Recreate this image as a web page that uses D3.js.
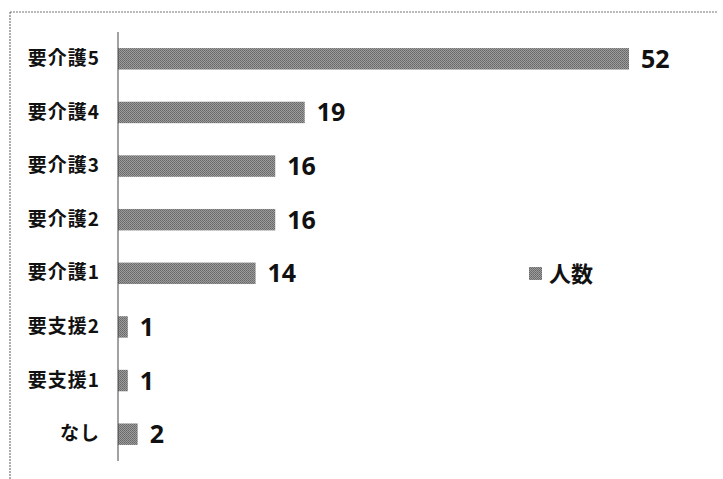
<!DOCTYPE html>
<html>
<head>
<meta charset="utf-8">
<script src="https://cdn.jsdelivr.net/npm/d3@7"></script>
<style>
  body { margin: 0; background: #fff; }
  text { font-family: "Noto Sans CJK JP", "Open Sans", sans-serif; font-weight: bold; fill: #111; }
</style>
</head>
<body>
<div id="chart"></div>
<script>
// categories top to bottom
const categories = ["要介護5", "要介護4", "要介護3", "要介護2", "要介護1", "要支援2", "要支援1", "なし"];
const values = [52, 19, 16, 16, 14, 1, 1, 2];
const seriesName = "人数";

const width = 723, height = 479;
const svg = d3.select("#chart").append("svg")
  .attr("width", width)
  .attr("height", height);

// halftone-like fill for the bars
const pat = svg.append("defs").append("pattern")
  .attr("id", "dots")
  .attr("width", 2).attr("height", 2)
  .attr("patternUnits", "userSpaceOnUse");
pat.append("rect").attr("width", 2).attr("height", 2).attr("fill", "#9c9c9c");
pat.append("rect").attr("width", 1).attr("height", 1).attr("fill", "#666");
pat.append("rect").attr("x", 1).attr("y", 1).attr("width", 1).attr("height", 1).attr("fill", "#727272");

// dotted frame (top + left only visible)
svg.append("line")
  .attr("x1", 10).attr("y1", 12).attr("x2", 718).attr("y2", 12)
  .attr("stroke", "#777").attr("stroke-width", 1.2).attr("stroke-dasharray", "2,1");
svg.append("line")
  .attr("x1", 10).attr("y1", 12).attr("x2", 10).attr("y2", height)
  .attr("stroke", "#777").attr("stroke-width", 1.2).attr("stroke-dasharray", "2,1");

const x = d3.scaleLinear().domain([0, 52]).range([118, 629]);
const y = d3.scaleBand().domain(categories).range([32, 461]).paddingInner(0.6).paddingOuter(0.3);

// bars
svg.selectAll("rect.bar")
  .data(values)
  .join("rect")
  .attr("class", "bar")
  .attr("x", x(0))
  .attr("y", (d, i) => y(categories[i]))
  .attr("width", d => x(d) - x(0))
  .attr("height", y.bandwidth())
  .attr("fill", "url(#dots)");

// value labels
svg.selectAll("text.val")
  .data(values)
  .join("text")
  .attr("class", "val")
  .attr("x", d => x(d) + 12)
  .attr("y", (d, i) => y(categories[i]) + y.bandwidth() / 2)
  .attr("dy", "0.36em")
  .style("font-family", "'Open Sans', sans-serif")
  .style("font-size", "25px")
  .text(d => d);

// category axis
const axis = svg.append("g")
  .attr("transform", `translate(${x(0)},0)`)
  .call(d3.axisLeft(y).tickSize(0).tickPadding(18));
axis.select(".domain")
  .attr("d", "M0,32V461")
  .attr("stroke", "#444");
axis.selectAll(".tick text")
  .style("font-family", "'Noto Sans CJK JP', sans-serif")
  .style("font-size", "19px")
  .style("font-weight", "bold")
  .style("letter-spacing", "1px")
  .attr("fill", "#111");

// legend
const legend = svg.append("g").attr("transform", "translate(529,274)");
legend.append("rect")
  .attr("x", 0).attr("y", -7)
  .attr("width", 13).attr("height", 13)
  .attr("fill", "url(#dots)");
legend.append("text")
  .attr("x", 20).attr("y", 0).attr("dy", "0.36em")
  .style("font-size", "22px")
  .text(seriesName);
</script>
</body>
</html>
